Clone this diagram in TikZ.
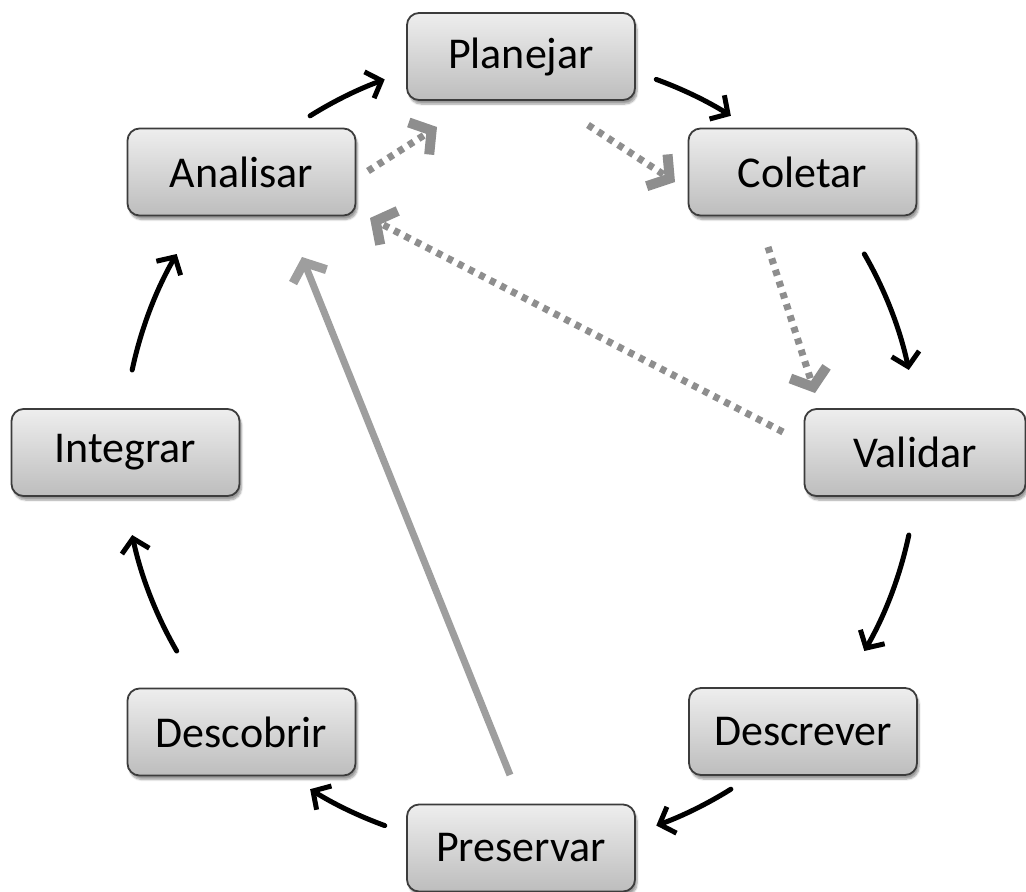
\documentclass[tikz,border=0pt]{standalone}
\usepackage{fontspec}
\setmainfont{Carlito}
\usetikzlibrary{arrows.meta,calc,shadows.blur}
\definecolor{nodeline}{HTML}{3C3C3C}
\definecolor{ntop}{HTML}{EEEEEE}
\definecolor{nbot}{HTML}{BDBDBD}
\definecolor{dotgray}{HTML}{8E8E8E}
\definecolor{solgray}{HTML}{9E9E9E}
\begin{document}
\begin{tikzpicture}[x=1pt,y=-1pt,
  stage/.style={draw=nodeline, line width=1.8pt, rounded corners=12pt,
    top color=ntop, bottom color=nbot, minimum width=228pt, minimum height=87pt,
    inner sep=0pt, font=\fontsize{44}{50}\selectfont,
    blur shadow={shadow xshift=2pt, shadow yshift=-4pt, shadow blur steps=6, shadow opacity=40}},
  cyc/.style={line width=5pt, black, line cap=round, -{Straight Barb[length=13pt,width=28pt,line width=5pt]}},
  dotarr/.style={draw=dotgray, line width=7pt, dash pattern=on 6pt off 6pt,
    -{Straight Barb[length=15pt,width=38pt,line width=10pt,line cap=butt]}},
  solarr/.style={draw=solgray, line width=7pt, -{Straight Barb[length=15pt,width=36pt,line width=9pt]}}]
\useasboundingbox (0,0) rectangle (1026,892);

% nodes
\node[stage] (plan) at (521,56.5) {Planejar};
\node[stage] (colet) at (802.5,172) {Coletar};
\node[stage, minimum width=221pt] (valid) at (915,452.5) {Validar};
\node[stage] (descr) at (803,731.5) {Descrever};
\node[stage] (pres) at (521,848) {Preservar};
\node[stage] (desco) at (241.5,732) {Descobrir};
\node[stage] (integ) at (125.5,452.5) {Integrar};
\node[stage] (anal) at (241.5,172) {Analisar};

% cycle arcs
\coordinate (ctr) at (520.5,452.5);
\foreach \n/\a/\b in {ap/122/110, pc/70/58, cv/30/12, vd/-12/-30, dp/-58/-70, pd/-110/-122, di/-150/-168, ia/168/150}{
  \coordinate (\n) at ($(ctr)+(\a:397pt)$);
  \draw[cyc] (\n) arc[start angle=\a, end angle=\b, radius=397pt];
}

% dotted gray arrows
\coordinate (g1s) at (368,171);  \coordinate (g1e) at (437,127);
\coordinate (g2s) at (588,125);  \coordinate (g2e) at (675,182);
\coordinate (g3s) at (768,247);  \coordinate (g3e) at (815,393);
\coordinate (g4s) at (783,432);  \coordinate (g4e) at (370,218);
\draw[dotarr] (g1s) -- (g1e);
\draw[dotarr] (g2s) -- (g2e);
\draw[dotarr] (g3s) -- (g3e);
\draw[dotarr] (g4s) -- (g4e);

% solid gray arrow
\coordinate (ps) at (510,775); \coordinate (pe) at (302,257);
\draw[solarr] (ps) -- (pe);
\end{tikzpicture}
\end{document}
